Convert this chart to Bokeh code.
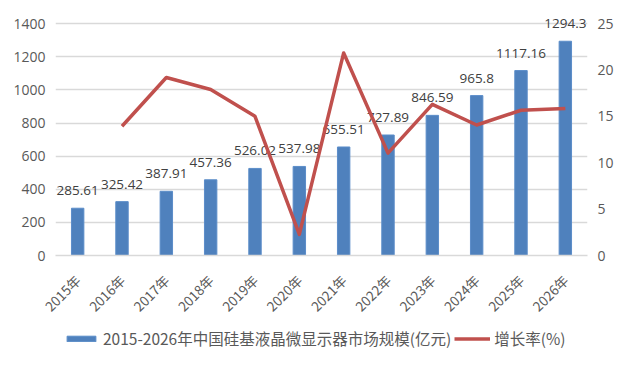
from bokeh.plotting import figure
from bokeh.models import (Range1d, LinearAxis, FixedTicker, Legend, LegendItem,
                          ColumnDataSource, FactorRange)
from bokeh.layouts import column
from bokeh.core.properties import value
from bokeh.embed import file_html
from bokeh.resources import INLINE
import math

years = ["2015年", "2016年", "2017年", "2018年", "2019年", "2020年",
         "2021年", "2022年", "2023年", "2024年", "2025年", "2026年"]
market = [285.61, 325.42, 387.91, 457.36, 526.02, 537.98,
          655.51, 727.89, 846.59, 965.8, 1117.16, 1294.3]
market_labels = ["285.61", "325.42", "387.91", "457.36", "526.02", "537.98",
                 "655.51", "727.89", "846.59", "965.8", "1117.16", "1294.3"]
growth_years = years[1:]
growth = [13.94, 19.20, 17.90, 15.01, 2.27, 21.85, 11.04, 16.31, 14.08, 15.67, 15.86]
left_ticks = [0, 200, 400, 600, 800, 1000, 1200, 1400]
right_ticks = [0, 5, 10, 15, 20, 25]

bar_name = "2015-2026年中国硅基液晶微显示器市场规模(亿元)"
line_name = "增长率(%)"

NUM_FONT = "Open Sans"
CJK_FONT = "Noto Sans CJK SC"
TICK_COLOR = "#595959"
GRID = "#D9D9D9"
BLUE = "#4F81BD"
RED = "#C0504D"

# headroom above the top gridline so the top data label is not clipped
Y_TOP = 1480
R_TOP = 25 * Y_TOP / 1400

p = figure(width=617, height=326, output_backend="svg", toolbar_location=None,
           x_range=FactorRange(factors=years), y_range=Range1d(0, Y_TOP),
           min_border_left=55, min_border_right=30, min_border_top=10,
           min_border_bottom=71)
p.outline_line_color = None
p.background_fill_color = "white"
p.border_fill_color = "white"

p.extra_y_ranges = {"rate": Range1d(0, R_TOP)}

src = ColumnDataSource(dict(x=years, y=market, lab=market_labels))
bars = p.vbar(x="x", top="y", width=0.28, source=src, fill_color=BLUE,
              line_color="#5B8DC9", line_width=1)

p.text(x="x", y="y", text="lab", source=src, text_align="center",
       text_baseline="middle", y_offset=-17.5, text_font=value(NUM_FONT),
       text_font_size="13.5px", text_color="#404040")

lsrc = ColumnDataSource(dict(x=growth_years, y=growth))
line = p.line(x="x", y="y", source=lsrc, y_range_name="rate", line_color=RED,
              line_width=3.5, line_join="round")

# left axis
ax = p.yaxis[0]
ax.ticker = FixedTicker(ticks=left_ticks)
ax.axis_line_color = None
ax.major_tick_line_color = None
ax.minor_tick_line_color = None
ax.major_tick_in = 0
ax.major_tick_out = 0
ax.major_label_standoff = 10
ax.major_label_text_font = NUM_FONT
ax.major_label_text_font_size = "14px"
ax.major_label_text_color = TICK_COLOR

# right axis
rax = LinearAxis(y_range_name="rate", ticker=FixedTicker(ticks=right_ticks))
rax.axis_line_color = None
rax.major_tick_line_color = None
rax.minor_tick_line_color = None
rax.major_tick_in = 0
rax.major_tick_out = 0
rax.major_label_standoff = 10
rax.major_label_text_font = NUM_FONT
rax.major_label_text_font_size = "14px"
rax.major_label_text_color = TICK_COLOR
p.add_layout(rax, "right")

# x axis
xa = p.xaxis[0]
xa.axis_line_color = GRID
xa.axis_line_width = 1.5
xa.major_tick_line_color = None
xa.major_tick_in = 0
xa.major_tick_out = 0
xa.major_label_orientation = math.pi / 4
xa.major_label_standoff = 22
xa.major_label_text_font = CJK_FONT
xa.major_label_text_font_size = "13.5px"
xa.major_label_text_color = TICK_COLOR

p.xgrid.grid_line_color = None
p.ygrid.grid_line_color = GRID
p.ygrid.grid_line_width = 1.5

# legend strip below the chart (same styles as the chart's series)
lg = figure(width=617, height=37, output_backend="svg", toolbar_location=None,
            x_range=Range1d(0, 1), y_range=Range1d(1, 2),
            x_axis_location=None, y_axis_location=None,
            min_border_left=0, min_border_right=0, min_border_top=0,
            min_border_bottom=0)
lg.outline_line_color = None
lg.xgrid.grid_line_color = None
lg.ygrid.grid_line_color = None
lg.border_fill_color = "white"
# swatch renderers: zero-size, outside the visible range (only used for the legend)
lbar = lg.vbar(x=[0.5], top=[0], bottom=[0], width=0, fill_color=BLUE,
               line_color="#5B8DC9", line_width=1)
lline = lg.line(x=[0.5, 0.5], y=[-5, -5], line_color=RED, line_width=3.5)

legend = Legend(items=[LegendItem(label=bar_name, renderers=[lbar]),
                       LegendItem(label=line_name, renderers=[lline])],
                location=(8, 14), orientation="horizontal",
                glyph_width=36, glyph_height=7, label_standoff=4, spacing=3,
                padding=0, margin=0, border_line_color=None,
                background_fill_alpha=0, label_height=18,
                label_text_font=CJK_FONT, label_text_font_size="15.5px",
                label_text_color=TICK_COLOR)
lg.add_layout(legend, "center")

layout = column(p, lg, spacing=0)
open("out.html", "w").write(file_html(layout, INLINE))
